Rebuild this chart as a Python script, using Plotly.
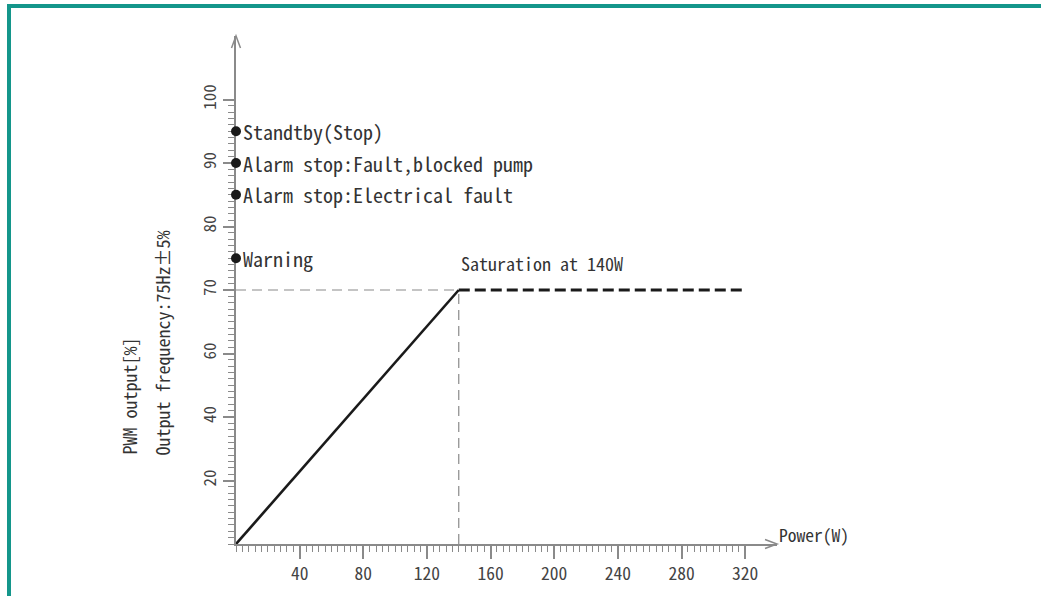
import plotly.graph_objects as go

# ---------------- data ----------------
power_w = [0, 140, 320]          # knee points of the PWM curve
pwm_pct = [0, 70, 70]
saturation_w = 140
saturation_pct = 70
status_labels = ["Standtby(Stop)", "Alarm stop:Fault,blocked pump",
                 "Alarm stop:Electrical fault", "Warning"]
status_pwm = [95, 90, 85, 75]
y_tick_labels = [20, 40, 60, 70, 80, 90, 100]
x_tick_labels = [40, 80, 120, 160, 200, 240, 280, 320]

# The y scale of the drawing is stretched above 60 % (twice as tall per unit)
def ydisp(v):
    return v if v <= 60 else 60 + 2 * (v - 60)

FONT = "Noto Sans Mono CJK SC, Noto Sans Mono CJK JP, DejaVu Sans Condensed, sans-serif"
AXC = "#8a8a8a"
TXT = "#333333"

W, H = 1041, 596
L, R, T, B = 236, 264, 36, 52
X_MAX = 340
Y_MAX = 160
PW, PH = W - L - R, H - T - B

def px_x(px):
    return (px - L) / PW

def px_y(py):
    return (H - B - py) / PH

fig = go.Figure()

# guide lines at saturation
fig.add_trace(go.Scatter(x=[0, saturation_w], y=[ydisp(saturation_pct)] * 2, mode="lines",
                         line=dict(color="#8a8a8a", width=1.2, dash="10px,6px"),
                         hoverinfo="skip", showlegend=False))
fig.add_trace(go.Scatter(x=[saturation_w, saturation_w], y=[0, ydisp(saturation_pct)], mode="lines",
                         line=dict(color="#8a8a8a", width=1.2, dash="10px,6px"),
                         hoverinfo="skip", showlegend=False))
# rising part
fig.add_trace(go.Scatter(x=power_w[:2], y=[ydisp(v) for v in pwm_pct[:2]], mode="lines",
                         line=dict(color="#1a1a1a", width=2.6),
                         showlegend=False))
# saturated part
fig.add_trace(go.Scatter(x=power_w[1:], y=[ydisp(v) for v in pwm_pct[1:]], mode="lines",
                         line=dict(color="#1a1a1a", width=2.8, dash="11px,5px"),
                         showlegend=False))
# status dots
fig.add_trace(go.Scatter(x=[0] * len(status_pwm), y=[ydisp(v) for v in status_pwm], mode="markers",
                         marker=dict(color="#1a1a1a", size=10),
                         cliponaxis=False, showlegend=False))

annotations = []
for lab, v in zip(status_labels, status_pwm):
    annotations.append(dict(x=0, y=ydisp(v), xref="x", yref="y", text=lab, showarrow=False,
                            xanchor="left", yanchor="middle", xshift=5,
                            font=dict(family=FONT, size=20, color=TXT)))
annotations.append(dict(x=saturation_w, y=ydisp(saturation_pct), xref="x", yref="y",
                        text="Saturation at 140W", showarrow=False, xanchor="left",
                        yanchor="middle", yshift=27, font=dict(family=FONT, size=18, color=TXT)))
annotations.append(dict(x=X_MAX, y=0, xref="x", yref="y", text="Power(W)", showarrow=False,
                        xanchor="left", yanchor="middle", xshift=0, yshift=10,
                        font=dict(family=FONT, size=17.5, color=TXT)))
annotations.append(dict(x=px_x(128), y=px_y(457), xref="paper", yref="paper",
                        text="PWM output[%]", showarrow=False, textangle=-90,
                        xanchor="center", yanchor="bottom",
                        font=dict(family=FONT, size=18, color=TXT)))
annotations.append(dict(x=px_x(161), y=px_y(458), xref="paper", yref="paper",
                        text="Output frequency:75Hz±5%", showarrow=False, textangle=-90,
                        xanchor="center", yanchor="bottom",
                        font=dict(family=FONT, size=18, color=TXT)))

x_major = list(range(0, 321, 20))
x_text = [str(v) if v in x_tick_labels else "" for v in x_major]
y_major = list(range(0, ydisp(100) + 1, 10))
y_lab_pos = {ydisp(v): str(v) for v in y_tick_labels}
y_text = [y_lab_pos.get(v, "") for v in y_major]

shapes = [
    # arrow heads (paper-anchored so they are not clipped)
    dict(type="path", xref="paper", yref="paper", xsizemode="pixel", ysizemode="pixel",
         xanchor=1, yanchor=0, path="M -12,-4.5 L 0,0 L -12,4.5",
         line=dict(color=AXC, width=1.5)),
    dict(type="path", xref="paper", yref="paper", xsizemode="pixel", ysizemode="pixel",
         xanchor=0, yanchor=1, path="M -4.5,-12 L 0,0 L 4.5,-12",
         line=dict(color=AXC, width=1.5)),
    # teal frame
    dict(type="rect", xref="paper", yref="paper", x0=px_x(7), x1=px_x(W + 5),
         y0=px_y(8), y1=px_y(4), fillcolor="#14968b", line=dict(width=0), layer="above"),
    dict(type="rect", xref="paper", yref="paper", x0=px_x(7), x1=px_x(11),
         y0=px_y(H + 5), y1=px_y(4), fillcolor="#14968b", line=dict(width=0), layer="above"),
]

fig.update_layout(
    width=W, height=H,
    margin=dict(l=L, r=R, t=T, b=B, autoexpand=False),
    paper_bgcolor="white", plot_bgcolor="white",
    annotations=annotations, shapes=shapes,
    xaxis=dict(range=[0, X_MAX], showgrid=False, zeroline=False, layer="below traces",
               showline=True, linecolor=AXC, linewidth=1.5,
               tickmode="array", tickvals=x_major, ticktext=x_text,
               ticks="outside", ticklen=13, tickwidth=1.5, tickcolor=AXC,
               tickfont=dict(family=FONT, size=17.5, color="#444"),
               minor=dict(tickmode="array", tickvals=list(range(0, 321, 4)),
                          ticks="outside", ticklen=6, tickwidth=1.2, tickcolor=AXC)),
    yaxis=dict(range=[0, Y_MAX], showgrid=False, zeroline=False, layer="below traces",
               showline=True, linecolor=AXC, linewidth=1.5,
               tickmode="array", tickvals=y_major, ticktext=y_text,
               ticks="outside", ticklen=11, tickwidth=1.5, tickcolor=AXC, tickangle=-90,
               tickfont=dict(family=FONT, size=17, color="#444"),
               minor=dict(tickmode="array", tickvals=list(range(0, ydisp(100) + 1, 2)),
                          ticks="outside", ticklen=6, tickwidth=1.2, tickcolor=AXC)),
)

fig.write_html("out.html", config={"displayModeBar": False},
               post_script="document.body.style.margin='0';")
